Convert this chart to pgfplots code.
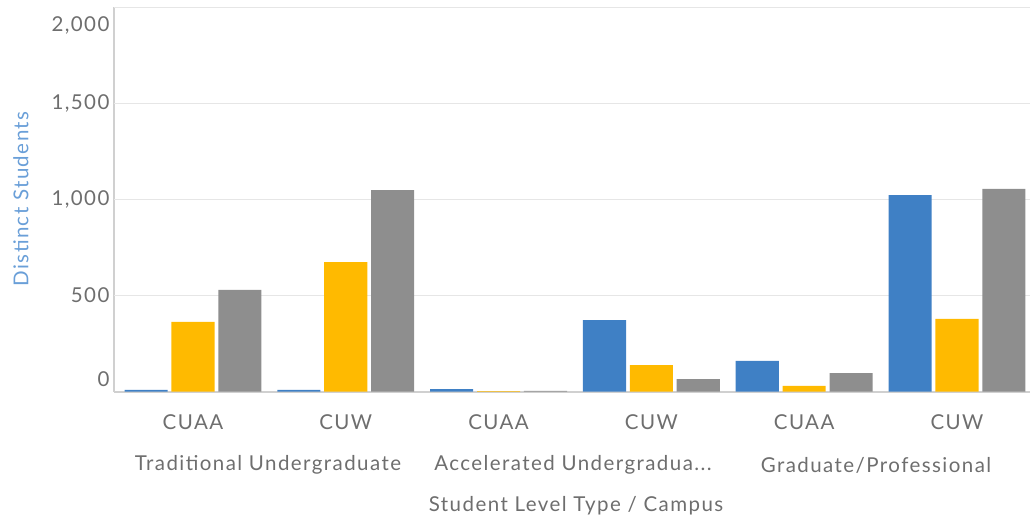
\documentclass[border=0pt]{standalone}
\usepackage{pgfplots}
\pgfplotsset{compat=1.18}
\usepackage{fontspec}
\setmainfont{Lato}[LetterSpace=7]
\definecolor{cblue}{HTML}{3F80C5}
\definecolor{corange}{HTML}{FFBA00}
\definecolor{cgray}{HTML}{8E8E8E}
\definecolor{ctext}{HTML}{6E6E6E}
\definecolor{cylab}{HTML}{6A9FD8}
\definecolor{cgrid}{HTML}{E6E6E6}
\definecolor{caxis}{HTML}{D0D0D0}
\begin{document}
\begin{tikzpicture}[x=1pt,y=1pt]
\begin{axis}[
  at={(114pt,131.5pt)}, anchor=south west,
  width=916pt, height=384pt, scale only axis,
  xmin=-0.517, xmax=5.478, ymin=0, ymax=2000,
  axis x line*=bottom, axis y line*=left,
  axis line style={caxis, line width=2pt},
  x axis line style={-}, y axis line style={-},
  xtick={0,1,2,3,4,5},
  xticklabels={CUAA,CUW,CUAA,CUW,CUAA,CUW},
  xtick style={draw=none},
  ytick={62,500,1000,1500,1906},
  yticklabels={0,500,{1,000},{1,500},{2,000}},
  ytick style={draw=none},
  extra y ticks={500,1000,1500,2000},
  extra y tick labels={},
  extra y tick style={grid=major, major grid style={cgrid, line width=1.5pt}},
  tick label style={font=\fontsize{20.5}{22}\selectfont, text=ctext},
  xticklabel style={yshift=-15pt},
  yticklabel style={xshift=-1pt},
  ybar=0pt, bar width=0.282,
  clip=false,
]
\addplot[fill=cblue, draw=none, bar shift=-0.307] coordinates {(0,8) (1,8) (2,13) (3,372) (4,159) (5,1023)};
\addplot[fill=corange, draw=none, bar shift=0] coordinates {(0,362) (1,674) (2,2) (3,138) (4,29) (5,378)};
\addplot[fill=cgray, draw=none, bar shift=0.307] coordinates {(0,529) (1,1049) (2,3) (3,65) (4,96) (5,1055)};
\end{axis}
\node[text=ctext, font=\fontsize{20.5}{22}\selectfont] at (268pt,58pt) {Traditional Undergraduate};
\node[text=ctext, font=\fontsize{20.5}{22}\selectfont] at (573pt,58pt) {Accelerated Undergradua...};
\node[text=ctext, font=\fontsize{20.5}{22}\selectfont] at (876pt,58pt) {Graduate/Professional};
\node[text=ctext, font=\fontsize{20.5}{22}\selectfont] at (576pt,17pt) {Student Level Type / Campus};
\node[text=cylab, font=\fontsize{20.5}{22}\selectfont, rotate=90] at (21pt,324pt) {Distinct Students};
\pgfresetboundingbox
\path[use as bounding box] (0,0) rectangle (1030pt,523pt);
\end{tikzpicture}
\end{document}
